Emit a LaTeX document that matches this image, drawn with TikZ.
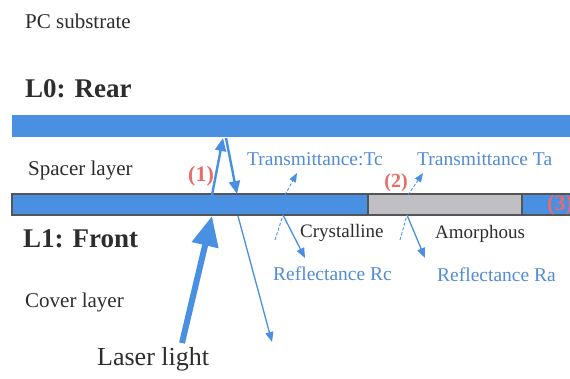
\documentclass[tikz,border=0pt]{standalone}
\usepackage{fontspec}
\setmainfont{Liberation Serif}
\usetikzlibrary{arrows.meta,calc}

\definecolor{layerblue}{RGB}{74,144,226}
\definecolor{labelblue}{RGB}{82,140,212}
\definecolor{markred}{RGB}{232,108,104}
\definecolor{phasegray}{RGB}{192,192,196}
\definecolor{edgegray}{RGB}{85,85,85}
\definecolor{textgray}{RGB}{45,45,45}

\tikzset{
	layertext/.style={anchor=base west, inner sep=0pt, text=textgray, font=\fontsize{21}{23}\selectfont},
	layername/.style={anchor=base west, inner sep=0pt, text=textgray, font=\bfseries\fontsize{27}{29}\selectfont},
	bluetext/.style={anchor=base west, inner sep=0pt, text=labelblue, font=\fontsize{19.5}{21}\selectfont},
	marktext/.style={inner sep=0pt, text=markred, font=\bfseries\fontsize{22}{24}\selectfont},
	ray/.style={draw=layerblue, line width=2.4pt, -{Triangle[length=13pt,width=11pt]}},
	thinray/.style={draw=layerblue, line width=1.3pt, -{Triangle[length=10pt,width=8pt]}},
	faintray/.style={draw=layerblue, line width=0.9pt, densely dashed},
}

\begin{document}
\begin{tikzpicture}[x=1pt, y=-1pt]
		\clip (0,0) rectangle (570,378);
		\fill[white] (0,0) rectangle (570,378);

		\fill[layerblue] (12,115) rectangle (575,137);
		\fill[layerblue] (12,194) rectangle (368,215);
		\fill[phasegray] (368,194) rectangle (522,215);
		\fill[layerblue] (522,194) rectangle (575,215);
		\draw[edgegray, line width=1.5pt] (12,194) rectangle (575,215);
		\draw[edgegray, line width=1.5pt] (368,194) -- (368,215) (522,194) -- (522,215);

		\node[layertext] (pc) at (25,28) {PC substrate};
		\node[layername] (rear) at (25,97) {L0: Rear};
		\node[layertext] (spacer) at (28,175) {Spacer layer};
		\node[layername] (front) at (23,247) {L1: Front};
		\node[layertext] (cover) at (25,307) {Cover layer};
		\node[layertext, font=\fontsize{26}{28}\selectfont] (laser) at (97,365) {Laser light};

		\node[bluetext] (tc) at (247,165) {Transmittance:Tc};
		\node[bluetext] (ta) at (417,165) {Transmittance Ta};
		\node[layertext, font=\fontsize{19}{21}\selectfont] (cryst) at (300,237) {Crystalline};
		\node[layertext, font=\fontsize{19}{21}\selectfont] (amor) at (435,238) {Amorphous};
		\node[bluetext] (rc) at (273,280) {Reflectance Rc};
		\node[bluetext] (ra) at (437,281) {Reflectance Ra};

		\node[marktext] (m1) at (201,176) {(1)};
		\node[marktext, font=\bfseries\fontsize{20}{22}\selectfont] (m2) at (396,183) {(2)};
		\node[marktext] (m3) at (560,205) {(3)};

		\coordinate (lsrc) at (182,343);
		\coordinate (lhit) at (212,216);
		\coordinate (up0) at (212,195);
		\coordinate (up1) at (223,138);
		\coordinate (dn0) at (226,138);
		\coordinate (dn1) at (237,194);
		\coordinate (out0) at (238,216);
		\coordinate (out1) at (272,342);
		\coordinate (cin) at (275,240);
		\coordinate (cv) at (283,215);
		\coordinate (cout) at (305,258);
		\coordinate (ctop) at (285,195);
		\coordinate (ctr) at (297,173);
		\coordinate (ain) at (400,240);
		\coordinate (av) at (407,215);
		\coordinate (aout) at (425,258);
		\coordinate (atop) at (408,195);
		\coordinate (atr) at (423,173);

		\draw[layerblue, line width=6pt, -{Triangle[length=30pt,width=26pt]}] (lsrc) -- (lhit);
		\draw[ray] (up0) -- (up1);
		\draw[ray] (dn0) -- (dn1);
		\draw[thinray] (out0) -- (out1);

		\draw[faintray] (cin) -- (cv);
		\draw[thinray] (cv) -- (cout);
		\draw[faintray, -{Triangle[length=9pt,width=7pt]}] (ctop) -- (ctr);
		\draw[faintray] (ain) -- (av);
		\draw[thinray] (av) -- (aout);
		\draw[faintray, -{Triangle[length=9pt,width=7pt]}] (atop) -- (atr);
	\end{tikzpicture}
\end{document}
